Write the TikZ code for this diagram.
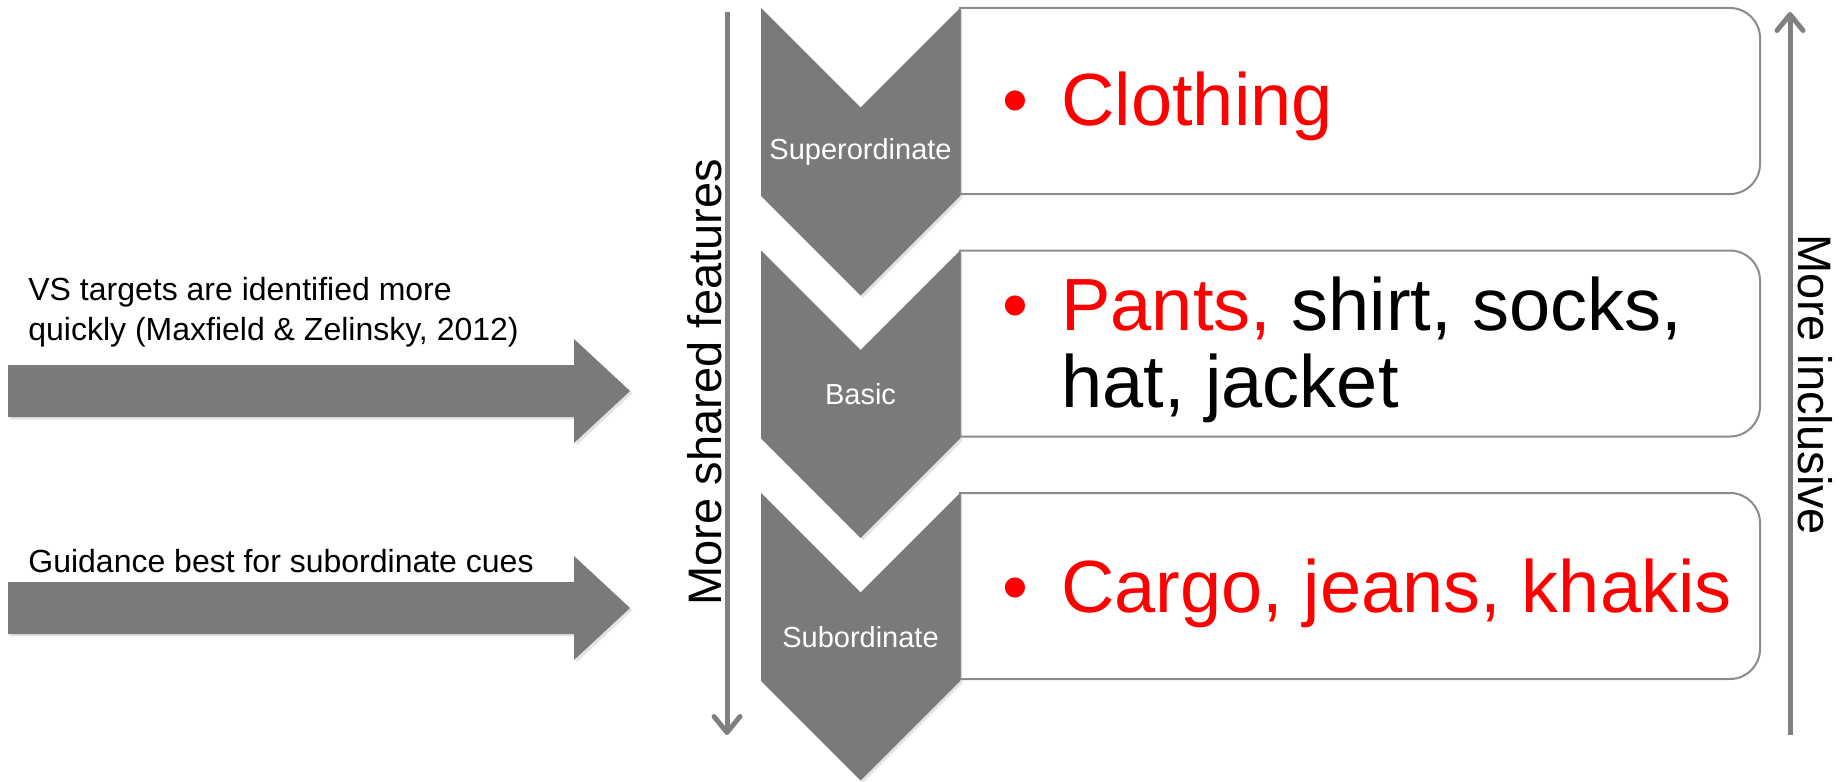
\documentclass[tikz,border=0pt]{standalone}
\usepackage{fontspec}
\setmainfont{Liberation Sans}
\usepackage{xcolor}
\usetikzlibrary{arrows.meta, shadows, positioning, calc}
\definecolor{ChevGray}{RGB}{122,122,122}
\definecolor{AxisGray}{RGB}{128,128,128}
\definecolor{BoxGray}{RGB}{140,140,140}
\definecolor{CueRed}{RGB}{255,0,0}
\tikzset{
    chevron/.style={
        fill=ChevGray, drop shadow={shadow xshift=1.2pt, shadow yshift=-1.2pt, opacity=0.22}
    },
    sidearrow/.style={
        fill=ChevGray, drop shadow={shadow xshift=1.2pt, shadow yshift=-1.2pt, opacity=0.22}
    },
    levelbox/.style={
        draw=BoxGray, line width=1pt, fill=white
    },
    levellabel/.style={
        text=white, inner sep=0pt, font=\fontsize{14.5}{17}\selectfont
    },
    bigtext/.style={
        inner sep=0pt, anchor=base west, font=\fontsize{37}{44}\selectfont
    },
    sidetext/.style={
        inner sep=0pt, anchor=base west, font=\fontsize{16}{20}\selectfont
    },
    axisline/.style={
        draw=AxisGray, line width=2.5pt, -{Straight Barb[length=8pt, width=13pt, round]}
    },
    axistext/.style={
        inner sep=0pt, anchor=base, font=\fontsize{23.5}{28}\selectfont
    }
}

\begin{document}
\begin{tikzpicture}[x=0.5pt, y=-0.5pt]
    \useasboundingbox (0,0) rectangle (1845,781);

    % 1. Hop ben phai (goc phai bo tron)
    \foreach \t in {8, 250.5, 493} {
        \draw[levelbox] (960,\t) -- (1730,\t) arc[start angle=90, end angle=0, radius=15pt]
            -- (1760,\t+156) arc[start angle=0, end angle=-90, radius=15pt]
            -- (960,\t+186) -- cycle;
    }

    % 2. Chevron + nhan cap do
    \foreach \t/\name/\lbl in {8/sup/Superordinate, 250.5/bas/Basic, 493/sub/Subordinate} {
        \fill[chevron] (761,\t) -- (860.5,\t+99.5) -- (960,\t) -- (960,\t+188)
            -- (860.5,\t+287.5) -- (761,\t+188) -- cycle;
        \node[levellabel] (\name) at (860.5,\t+144) {\lbl};
    }

    % 3. Noi dung trong hop
    \node[bigtext, text=CueRed] (dot1) at (1002,126) {\textbullet};
    \node[bigtext, text=CueRed] (clothing) at (1061,126) {Clothing};

    \node[bigtext, text=CueRed] (dot2) at (1002,330) {\textbullet};
    \node[bigtext] (basic1) at (1061,330) {\textcolor{CueRed}{Pants,} shirt, socks,};
    \node[bigtext] (basic2) at (1061,407) {hat, jacket};

    \node[bigtext, text=CueRed] (dot3) at (1002,612) {\textbullet};
    \node[bigtext, text=CueRed] (cargo) at (1061,612) {Cargo, jeans, khakis};

    % 4. Mui ten ben trai
    \fill[sidearrow] (8,365) -- (574,365) -- (574,339) -- (630,391)
        -- (574,443) -- (574,417) -- (8,417) -- cycle;
    \fill[sidearrow] (8,582) -- (574,582) -- (574,556) -- (630,608)
        -- (574,660) -- (574,634) -- (8,634) -- cycle;

    \node[sidetext] (vs1) at (28,300) {VS targets are identified more};
    \node[sidetext] (vs2) at (28,340) {quickly (Maxfield \& Zelinsky, 2012)};
    \node[sidetext] (guide) at (28,572) {Guidance best for subordinate cues};

    % 5. Truc doc
    \coordinate (sharedtop) at (727,12);
    \coordinate (sharedbot) at (727,735);
    \draw[axisline] (sharedtop) -- (sharedbot);
    \node[axistext, rotate=90] (shared) at (721,382) {More shared features};

    \coordinate (inclbot) at (1790,735);
    \coordinate (incltop) at (1790,12);
    \draw[axisline] (inclbot) -- (incltop);
    \node[axistext, rotate=-90] (incl) at (1798,385) {More inclusive};

\end{tikzpicture}
\end{document}
